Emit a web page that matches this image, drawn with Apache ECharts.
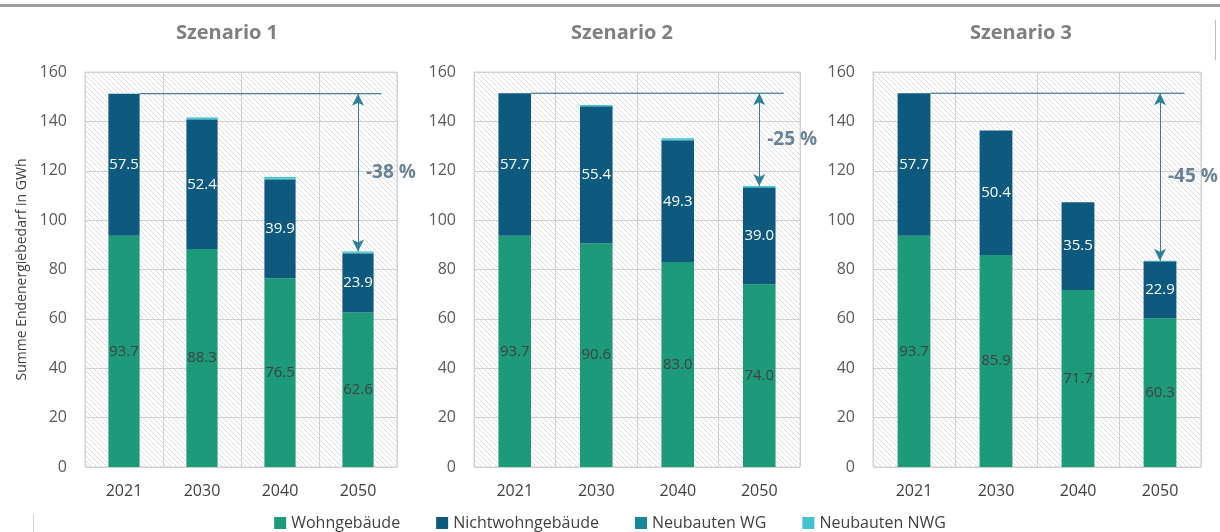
<!DOCTYPE html>
<html>
<head>
<meta charset="utf-8">
<script src="https://cdn.jsdelivr.net/npm/echarts@6/dist/echarts.min.js"></script>
<style>
  html, body { margin: 0; padding: 0; background: #fff; }
  #chart { width: 1220px; height: 532px; }
</style>
</head>
<body>
<div id="chart"></div>
<script>
// Daten
var years = ['2021', '2030', '2040', '2050'];
var scenarios = ['Szenario 1', 'Szenario 2', 'Szenario 3'];
var seriesNames = ['Wohngebäude', 'Nichtwohngebäude', 'Neubauten WG', 'Neubauten NWG'];

var wohn1 = [93.7, 88.3, 76.5, 62.6];
var nichtwohn1 = [57.5, 52.4, 39.9, 23.9];
var neuWG1 = [0, 0.3, 0.4, 0.3];
var neuNWG1 = [0, 0.6, 0.7, 0.5];

var wohn2 = [93.7, 90.6, 83.0, 74.0];
var nichtwohn2 = [57.7, 55.4, 49.3, 39.0];
var neuWG2 = [0, 0.2, 0.3, 0.3];
var neuNWG2 = [0, 0.4, 0.6, 0.5];

var wohn3 = [93.7, 85.9, 71.7, 60.3];
var nichtwohn3 = [57.7, 50.4, 35.5, 22.9];
var neuWG3 = [0, 0, 0, 0.2];
var neuNWG3 = [0, 0, 0, 0.1];

var reductions = ['-38 %', '-25 %', '-45 %'];

var data = [
    [wohn1, nichtwohn1, neuWG1, neuNWG1],
    [wohn2, nichtwohn2, neuWG2, neuNWG2],
    [wohn3, nichtwohn3, neuWG3, neuNWG3]
];
var colors = ['#1d9a7a', '#0d5a7e', '#15899a', '#42c3d2'];

// schraffierter Hintergrund
var hatch = document.createElement('canvas');
hatch.width = 5; hatch.height = 5;
var hctx = hatch.getContext('2d');
hctx.fillStyle = '#ffffff';
hctx.fillRect(0, 0, 5, 5);
hctx.fillStyle = '#dcdcdc';
for (var k = 0; k < 5; k++) hctx.fillRect(k, k, 1, 1);

var grids = [
    { left: 85, top: 72, width: 312, height: 395 },
    { left: 474, top: 72, width: 326, height: 395 },
    { left: 873, top: 72, width: 328, height: 395 }
];
var titleX = [222, 617, 1016];

function total(arrs, i) {
    var s = 0;
    arrs.forEach(function (a) { s += a[i]; });
    return s;
}

var chart = echarts.init(document.getElementById('chart'));

var option = {
    animation: false,
    textStyle: { fontFamily: 'Open Sans' },
    title: scenarios.map(function (t, i) {
        return {
            text: t, left: titleX[i], top: 18, textAlign: 'center',
            textStyle: { fontSize: 20, fontWeight: 'bold', color: '#7f7f7f', fontFamily: 'Open Sans' }
        };
    }),
    legend: {
        data: seriesNames,
        top: 510, left: 'center',
        icon: 'rect', itemWidth: 12, itemHeight: 12, itemGap: 36, itemStyle: {},
        textStyle: { fontSize: 16, color: '#404040' }
    },
    grid: grids.map(function (g) {
        return {
            left: g.left, top: g.top, width: g.width, height: g.height,
            show: true, borderColor: '#d4d4d4', borderWidth: 1,
            backgroundColor: { image: hatch, repeat: 'repeat' }
        };
    }),
    xAxis: grids.map(function (g, i) {
        return {
            type: 'category', gridIndex: i, data: years,
            axisLine: { show: false }, axisTick: { show: false },
            splitLine: { show: true, lineStyle: { color: '#d0d0d0' } },
            axisLabel: { fontSize: 16, color: '#404040', margin: 16 }
        };
    }).concat(grids.map(function (g, i) {
        return { type: 'value', gridIndex: i, min: 0, max: 4, show: false };
    })),
    yAxis: grids.map(function (g, i) {
        return {
            type: 'value', gridIndex: i, min: 0, max: 160, interval: 20,
            axisLine: { show: false }, axisTick: { show: false },
            splitLine: { lineStyle: { color: '#d0d0d0' } },
            axisLabel: { fontSize: 16, color: '#595959', margin: 18 },
            name: i === 0 ? 'Summe Endenergiebedarf in GWh' : '',
            nameLocation: 'middle', nameGap: 56,
            nameTextStyle: { fontSize: 14, color: '#404040' }
        };
    }),
    series: []
};

data.forEach(function (arrs, g) {
    arrs.forEach(function (vals, s) {
        option.series.push({
            name: seriesNames[s], type: 'bar', stack: 'st' + g,
            xAxisIndex: g, yAxisIndex: g, barWidth: '40%',
            itemStyle: { color: colors[s] },
            label: {
                show: s < 2, position: 'inside',
                color: s === 0 ? '#404040' : '#ffffff', fontSize: 15,
                formatter: function (p) { return p.value.toFixed(1); }
            },
            data: vals
        });
    });
    var t0 = total(arrs, 0);
    var tEnd = total(arrs, years.length - 1);
    // horizontale Bezugslinie
    option.series.push({
        type: 'line', xAxisIndex: 3 + g, yAxisIndex: g,
        symbol: 'none', silent: true,
        lineStyle: { color: '#1d5f80', width: 1 },
        data: [[0.7, t0], [3.8, t0]],
        markLine: {
            silent: true, symbol: ['arrow', 'arrow'], symbolSize: [9, 12],
            lineStyle: { color: '#2e7f99', width: 1, type: 'solid' },
            label: { show: false },
            data: [[{ coord: [3.5, t0] }, { coord: [3.5, tEnd] }]]
        }
    });
    // Prozentangabe
    option.series.push({
        type: 'scatter', xAxisIndex: 3 + g, yAxisIndex: g,
        symbolSize: 0, silent: true,
        label: {
            show: true, position: 'right', distance: 8,
            formatter: reductions[g],
            fontSize: 19, fontWeight: 'bold', color: '#44657d'
        },
        data: [[3.5, (t0 + tEnd) / 2]]
    });
});

option.graphic = [
    { type: 'rect', shape: { x: 0, y: 4, width: 1220, height: 3 }, style: { fill: '#9e9e9e' } },
    { type: 'rect', shape: { x: 1215, y: 20, width: 1, height: 40 }, style: { fill: '#bdbdbd' } },
    { type: 'rect', shape: { x: 33, y: 514, width: 1, height: 18 }, style: { fill: '#cfcfcf' } }
];

chart.setOption(option);
</script>
</body>
</html>
